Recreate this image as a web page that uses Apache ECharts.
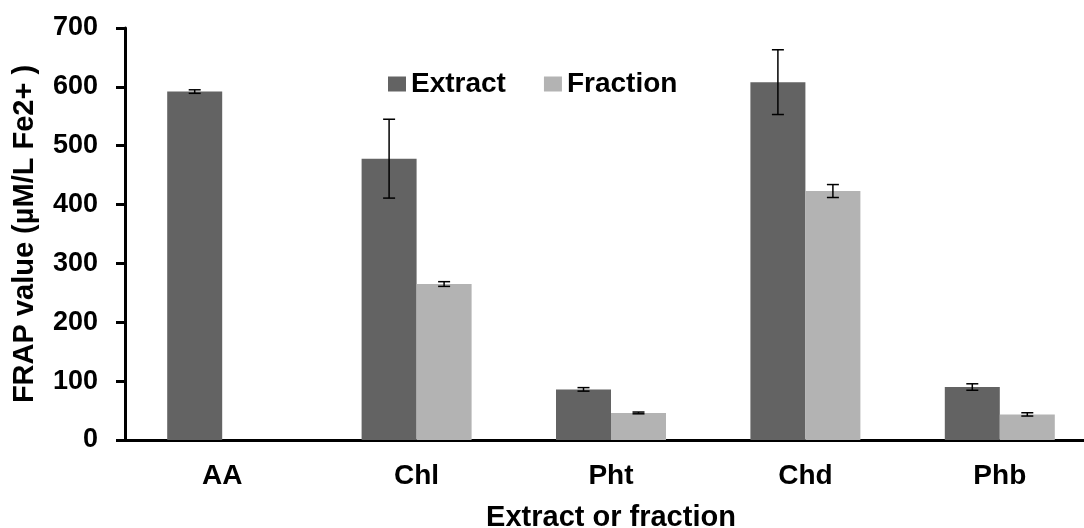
<!DOCTYPE html>
<html>
<head>
<meta charset="utf-8">
<script src="https://cdn.jsdelivr.net/npm/echarts@6/dist/echarts.min.js"></script>
<style>html,body{margin:0;padding:0;background:#fff}#c{width:1084px;height:528px}</style>
</head>
<body>
<div id="c"></div>
<script>
const categories = ['AA', 'Chl', 'Pht', 'Chd', 'Phb'];
const extractValues = [592, 478, 86, 608, 90];
const extractErrors = [3, 67, 3, 55, 5.5];
const fractionValues = [null, 265, 46, 423, 43.5];
const fractionErrors = [null, 4, 1.5, 11, 2.8];
const yTicks = [0, 100, 200, 300, 400, 500, 600, 700];

const FONT = '"Liberation Sans", Arial, sans-serif';
const BAR_W = 55;

function errSeries(values, errors, offset) {
  const data = categories.map((c, i) => values[i] == null ? null : [i, values[i], errors[i]]).filter(d => d);
  return {
    type: 'custom',
    silent: true,
    z: 10,
    data: data,
    renderItem: function (params, api) {
      const i = api.value(0), v = api.value(1), e = api.value(2);
      const top = api.coord([i, v + e]);
      const bot = api.coord([i, v - e]);
      const x = top[0] + offset;
      const cap = 6;
      const style = { stroke: '#000', lineWidth: 1.5 };
      return {
        type: 'group',
        children: [
          { type: 'line', shape: { x1: x, y1: top[1], x2: x, y2: bot[1] }, style: style },
          { type: 'line', shape: { x1: x - cap, y1: top[1], x2: x + cap, y2: top[1] }, style: style },
          { type: 'line', shape: { x1: x - cap, y1: bot[1], x2: x + cap, y2: bot[1] }, style: style }
        ]
      };
    }
  };
}

const chart = echarts.init(document.getElementById('c'), null, { renderer: 'canvas' });
chart.setOption({
  animation: false,
  backgroundColor: '#fff',
  textStyle: { fontFamily: FONT },
  grid: { left: 125, top: 28, width: 972, height: 412, containLabel: false, outerBoundsMode: 'none' },
  legend: {
    left: 388, top: 70, padding: 0,
    itemWidth: 18, itemHeight: 15, itemGap: 38,
    icon: 'rect',
    data: ['Extract', 'Fraction'],
    textStyle: { fontFamily: FONT, fontWeight: 'bold', fontSize: 28, color: '#000', lineHeight: 28 }
  },
  xAxis: {
    type: 'category',
    data: categories,
    axisLine: { lineStyle: { color: '#000', width: 3 } },
    axisTick: { show: false },
    axisLabel: { margin: 22, fontFamily: FONT, fontWeight: 'bold', fontSize: 28, color: '#000' },
    name: 'Extract or fraction',
    nameLocation: 'middle',
    nameGap: 63,
    nameTextStyle: { fontFamily: FONT, fontWeight: 'bold', fontSize: 29, color: '#000' }
  },
  yAxis: {
    type: 'value',
    min: yTicks[0], max: yTicks[yTicks.length - 1], interval: 100,
    axisLine: { show: true, lineStyle: { color: '#000', width: 3 } },
    axisTick: { show: true, inside: false, length: 9, lineStyle: { color: '#000', width: 3 } },
    splitLine: { show: false },
    axisLabel: { margin: 27, fontFamily: FONT, fontWeight: 'bold', fontSize: 27, color: '#000' },
    name: 'FRAP value (µM/L Fe2+ )',
    nameLocation: 'middle',
    nameGap: 86,
    nameTextStyle: { fontFamily: FONT, fontWeight: 'bold', fontSize: 29, color: '#000' }
  },
  series: [
    { name: 'Extract', type: 'bar', data: extractValues, barWidth: BAR_W, barGap: '0%', itemStyle: { color: '#636363' } },
    { name: 'Fraction', type: 'bar', data: fractionValues, barWidth: BAR_W, barGap: '0%', itemStyle: { color: '#b3b3b3' } },
    errSeries(extractValues, extractErrors, -BAR_W / 2),
    errSeries(fractionValues, fractionErrors, BAR_W / 2)
  ]
});
</script>
</body>
</html>
